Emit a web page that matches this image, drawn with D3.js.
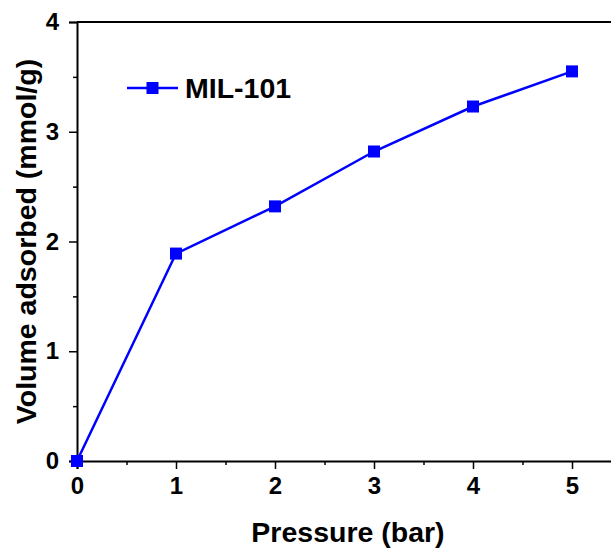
<!DOCTYPE html>
<html>
<head>
<meta charset="utf-8">
<script src="https://cdn.jsdelivr.net/npm/d3@7"></script>
<style>
  body { margin: 0; background: #fff; }
  text { font-family: "Liberation Sans", Arial, sans-serif; font-weight: bold; }
  .tick text { font-size: 24px; fill: #000; }
  .tick line { stroke: #000; stroke-width: 1.5px; }
  .domain { stroke: #000; stroke-width: 2px; }
</style>
</head>
<body>
<div id="chart"></div>
<script>
// data
const pressure = [0, 1, 2, 3, 4, 5];
const adsorbed = [0, 1.89, 2.32, 2.82, 3.23, 3.55];
const seriesName = 'MIL-101';
const xTicks = [0, 1, 2, 3, 4, 5];
const yTicks = [0, 1, 2, 3, 4];

const W = 611, H = 549;
const margin = {top: 22, left: 77, bottom: 88};
const color = '#0000ff';

const svg = d3.select('#chart').append('svg')
    .attr('width', W)
    .attr('height', H);

const x = d3.scaleLinear()
    .domain([0, 5.4])
    .range([margin.left, margin.left + 5.4 * 99]);

const y = d3.scaleLinear()
    .domain([0, 4])
    .range([H - margin.bottom, margin.top]);

// frame (top line, right side is cut off)
svg.append('line')
    .attr('x1', x(0)).attr('x2', x(5.4))
    .attr('y1', y(4)).attr('y2', y(4))
    .attr('stroke', '#000').attr('stroke-width', 2);

// minor ticks
const xMinor = d3.range(0.5, 5.4, 1);
const yMinor = d3.range(0.5, 4, 1);

svg.append('g')
    .attr('transform', `translate(0,${y(0)})`)
    .call(d3.axisBottom(x).tickValues(xTicks).tickSize(8).tickPadding(8).tickFormat(d3.format('d')));
svg.append('g')
    .attr('transform', `translate(0,${y(0)})`)
    .call(d3.axisBottom(x).tickValues(xMinor).tickSize(4).tickFormat(''))
    .call(g => g.select('.domain').remove());

svg.append('g')
    .attr('transform', `translate(${x(0)},0)`)
    .call(d3.axisLeft(y).tickValues(yTicks).tickSize(8).tickPadding(10).tickFormat(d3.format('d')));
svg.append('g')
    .attr('transform', `translate(${x(0)},0)`)
    .call(d3.axisLeft(y).tickValues(yMinor).tickSize(4).tickFormat(''))
    .call(g => g.select('.domain').remove());

// axis titles
svg.append('text')
    .attr('x', 348).attr('y', 542)
    .attr('text-anchor', 'middle')
    .style('font-size', '28.5px')
    .text('Pressure (bar)');

svg.append('text')
    .attr('transform', `translate(36,${(y(0) + y(4)) / 2}) rotate(-90)`)
    .attr('text-anchor', 'middle')
    .style('font-size', '28.5px')
    .text('Volume adsorbed (mmol/g)');

// series
const pts = pressure.map((p, i) => ({x: p, y: adsorbed[i]}));

svg.append('path')
    .datum(pts)
    .attr('fill', 'none')
    .attr('stroke', color)
    .attr('stroke-width', 2.5)
    .attr('d', d3.line().x(d => x(d.x)).y(d => y(d.y)));

const ms = 12;
svg.selectAll('.marker')
    .data(pts)
    .join('rect')
      .attr('class', 'marker')
      .attr('x', d => x(d.x) - ms / 2)
      .attr('y', d => y(d.y) - ms / 2)
      .attr('width', ms)
      .attr('height', ms)
      .attr('fill', color);

// legend
const leg = svg.append('g').attr('transform', 'translate(127,88)');
leg.append('line')
    .attr('x1', 0).attr('x2', 51)
    .attr('y1', 0).attr('y2', 0)
    .attr('stroke', color).attr('stroke-width', 2.5);
leg.append('rect')
    .attr('x', 25.5 - ms / 2).attr('y', -ms / 2)
    .attr('width', ms).attr('height', ms)
    .attr('fill', color);
leg.append('text')
    .attr('x', 58).attr('y', 10)
    .style('font-size', '28.5px')
    .text(seriesName);
</script>
</body>
</html>
